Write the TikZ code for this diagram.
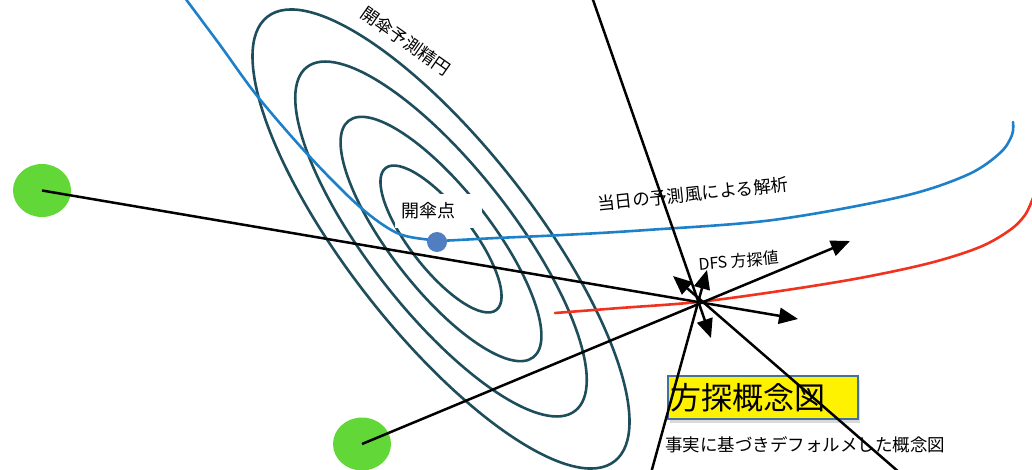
\documentclass[tikz,border=0pt]{standalone}
\usepackage{fontspec}
\setmainfont{Noto Sans CJK JP}
\usetikzlibrary{arrows.meta,shadows,shapes.geometric}
\definecolor{ellc}{RGB}{30,78,92}
\definecolor{windb}{RGB}{30,128,200}
\definecolor{windr}{RGB}{240,50,30}
\definecolor{dotb}{RGB}{80,126,192}
\definecolor{grn}{RGB}{98,216,56}
\definecolor{boxedge}{RGB}{65,113,156}
\begin{document}
\begin{tikzpicture}[x=1pt,y=-1pt,
  ell/.style={draw=ellc, line width=2.6pt},
  wind/.style={line width=2.6pt, line cap=round, line join=round},
  bline/.style={draw=black, line width=2.5pt, -{Triangle[length=19pt,width=16pt]}},
  lbl/.style={font=\fontsize{17.5}{20}\selectfont, inner sep=0pt},
  spot/.style={ellipse, fill=grn, minimum width=58pt, minimum height=53pt, inner sep=0pt},
  titlebox/.style={fill=yellow, draw=boxedge, line width=1.6pt, font=\fontsize{31}{34}\selectfont,
    text width=184pt, align=left, inner xsep=3pt, inner ysep=0pt, minimum height=43pt,
    drop shadow={shadow xshift=2pt, shadow yshift=-4pt, opacity=0.3, fill=gray}}
]
\useasboundingbox (0,0) rectangle (1032,470);

% ellipses
\coordinate (E) at (441,239);
\foreach \a/\b in {90/31, 150/50, 218/72, 282/93}{
  \draw[ell, rotate around={-52:(E)}] (E) ellipse [x radius=\a, y radius=\b];
}

% label for landing point (white box)
\node[lbl, font=\fontsize{18}{20}\selectfont, fill=white, anchor=west, inner xsep=6pt, inner ysep=9pt, text width=75pt, align=left] (kp) at (395,211) {開傘点};

% wind curves
\draw[wind, windb] plot[smooth, tension=0.55] coordinates {
  (185,-2) (220,45) (258,97) (310,157) (360,207) (397,233) (430,240) (437,241)
  (497,238) (563,235) (647,230) (773,220) (900,197) (967,175) (1000,153) (1012,135) (1013,122)};
\draw[wind, windr] plot[smooth, tension=0.55] coordinates {
  (555,313) (620,308) (698,302) (780,291) (860,278) (930,263) (980,247) (1010,230) (1025,215) (1033,198)};

% landing point
\node[circle, fill=dotb, minimum size=20pt, inner sep=0pt] (lp) at (437,242) {};

% stations
\node[spot] (g1) at (42,190.5) {};
\node[spot] (g2) at (362,444) {};

% labels
\node[lbl, rotate=-35] (ellabel) at (406,41) {開傘予測精円};
\node[lbl, rotate=6] (windlabel) at (693,194) {当日の予測風による解析};
\node[lbl, font=\fontsize{16}{18}\selectfont, rotate=5] (dfs) at (739,261) {DFS 方探値};
\node[titlebox, anchor=north west] (title) at (667,375) {方探概念図};
\node[lbl, anchor=west] (note) at (665,445) {事実に基づきデフォルメした概念図};

% bearing lines
\coordinate (t1) at (798,319);
\coordinate (t2) at (850,241);
\coordinate (s3) at (592,-3);
\coordinate (t3) at (711,338);
\coordinate (s4) at (651,473);
\coordinate (t4) at (707,270);
\coordinate (s5) at (900,473);
\coordinate (t5) at (673,276);
\draw[bline] (g1.center) -- (t1);
\draw[bline] (g2.center) -- (t2);
\draw[bline] (s3) -- (t3);
\draw[bline] (s4) -- (t4);
\draw[bline] (s5) -- (t5);
\end{tikzpicture}
\end{document}
